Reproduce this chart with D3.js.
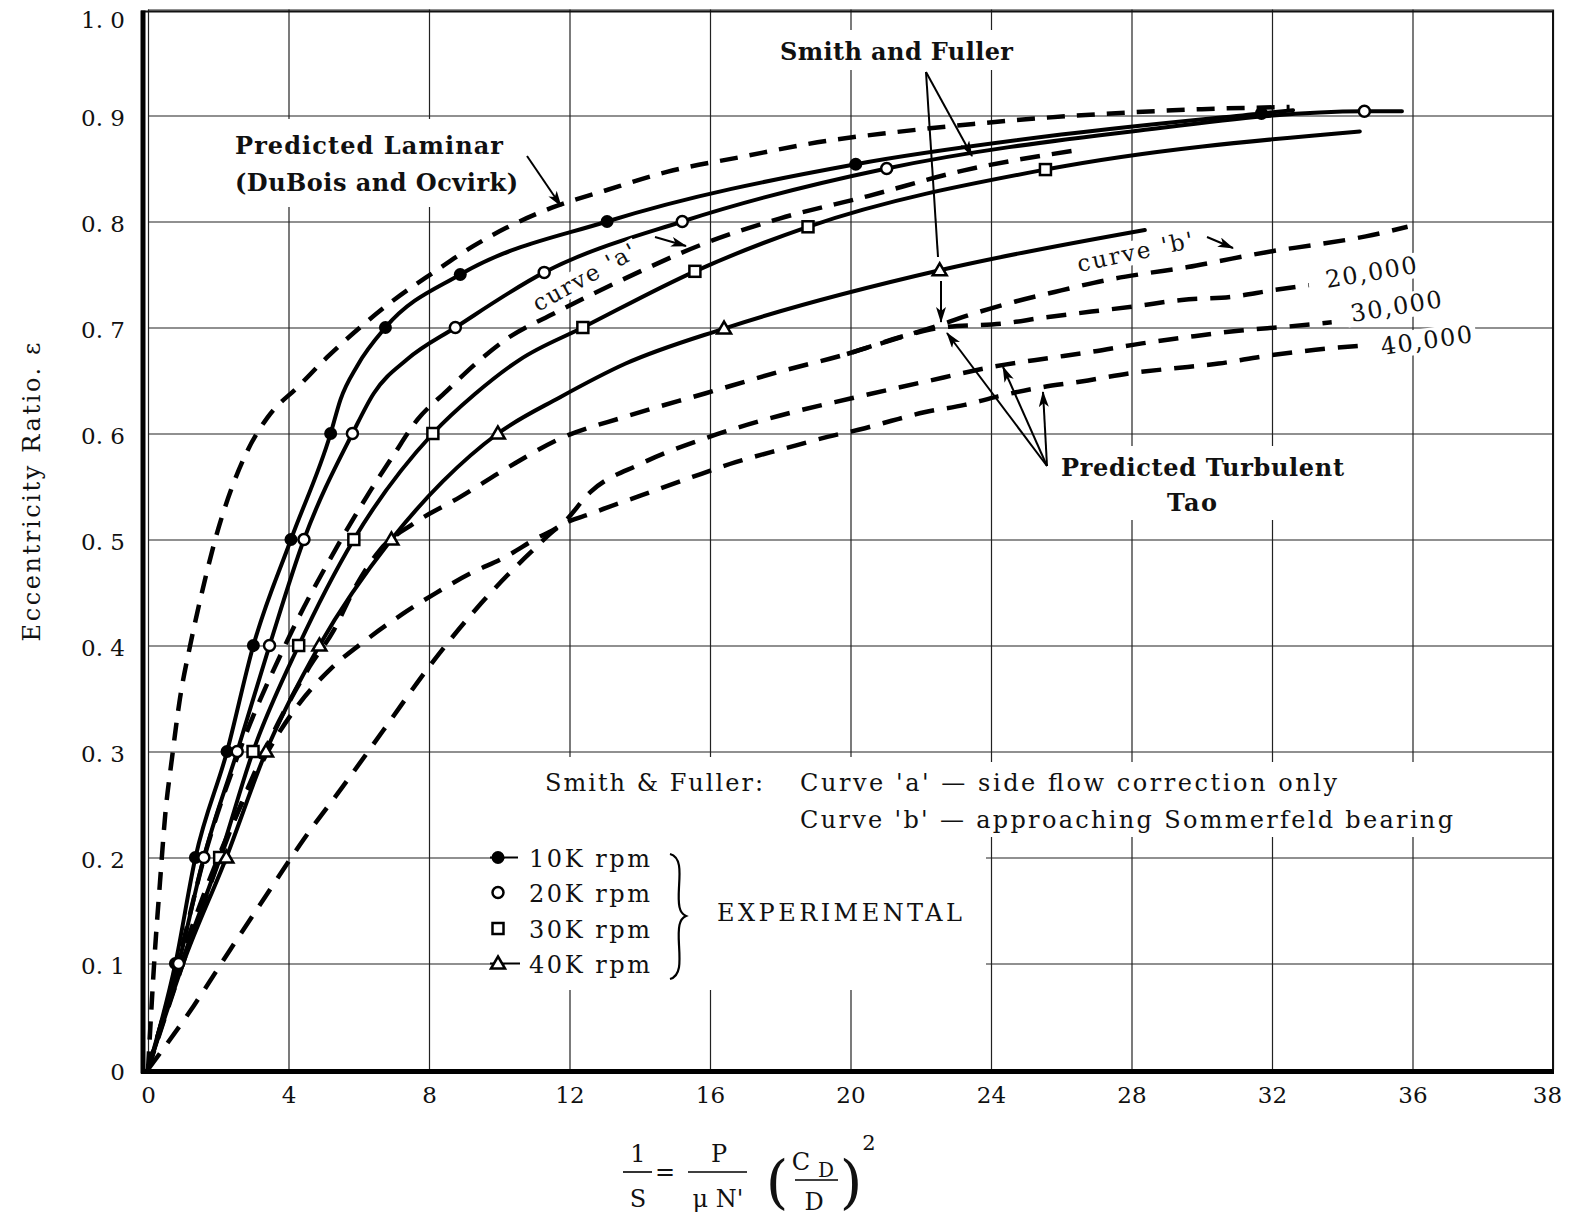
<!DOCTYPE html>
<html>
<head>
<meta charset="utf-8">
<title>Eccentricity Ratio vs 1/S</title>
<script src="https://d3js.org/d3.v7.min.js"></script>
<style>
  body { margin: 0; background: #fff; }
  svg { display: block; }
  text { font-family: "DejaVu Serif", "Liberation Serif", serif; fill: #111; }
</style>
</head>
<body>
<script>
// ---- axis ticks ----
var xTickVals = [0, 4, 8, 12, 16, 20, 24, 28, 32, 36, 40];
var xTickLabels = ["0", "4", "8", "12", "16", "20", "24", "28", "32", "36", "38"];
var yTickVals = [0, 0.1, 0.2, 0.3, 0.4, 0.5, 0.6, 0.7, 0.8, 0.9, 1.0];
var yTickLabels = ["0", "0. 1", "0. 2", "0. 3", "0. 4", "0. 5", "0. 6", "0. 7", "0. 8", "0. 9", "1. 0"];

// ---- experimental curves (solid) and their measured points ----
var rpm10Curve = [[0,0],[0.78,0.1],[1.35,0.2],[2.25,0.3],[3.0,0.4],[4.07,0.5],[5.2,0.6],[5.48,0.632],[5.96,0.664],[6.76,0.7],[8.89,0.75],[13.07,0.8],[20.15,0.854],[26,0.882],[31.7,0.902],[32.6,0.905]];
var rpm10Pts = [[0.78,0.1],[1.35,0.2],[2.25,0.3],[3.0,0.4],[4.07,0.5],[5.2,0.6],[6.76,0.7],[8.89,0.75],[13.07,0.8],[20.15,0.854],[31.7,0.902]];

var rpm20Curve = [[0,0],[0.87,0.1],[1.59,0.2],[2.54,0.3],[3.46,0.4],[4.44,0.5],[5.82,0.6],[6.43,0.638],[7.38,0.67],[8.75,0.7],[11.28,0.752],[15.21,0.8],[21.03,0.85],[28,0.885],[34.63,0.904],[35.7,0.904]];
var rpm20Pts = [[0.87,0.1],[1.59,0.2],[2.54,0.3],[3.46,0.4],[4.44,0.5],[5.82,0.6],[8.75,0.7],[11.28,0.752],[15.21,0.8],[21.03,0.85],[34.63,0.904]];

var rpm30Curve = [[0,0],[0.95,0.1],[2.04,0.2],[2.99,0.3],[4.29,0.4],[5.86,0.5],[8.11,0.6],[9.3,0.637],[10.6,0.67],[12.38,0.7],[15.57,0.753],[18.79,0.795],[25.55,0.849],[34.5,0.885]];
var rpm30Pts = [[2.04,0.2],[2.99,0.3],[4.29,0.4],[5.86,0.5],[8.11,0.6],[12.38,0.7],[15.57,0.753],[18.79,0.795],[25.55,0.849]];

var rpm40Curve = [[0,0],[1.0,0.1],[2.23,0.2],[3.36,0.3],[4.88,0.4],[6.93,0.5],[8.4,0.555],[9.96,0.6],[11.72,0.634],[13.6,0.666],[16.4,0.699],[22.54,0.754],[28.38,0.792]];
var rpm40Pts = [[2.23,0.2],[3.36,0.3],[4.88,0.4],[6.93,0.5],[9.96,0.6],[16.4,0.699],[22.54,0.754]];

// ---- predicted curves (dashed) ----
var laminar = [[0,0],[0.2,0.113],[0.34,0.176],[0.49,0.24],[0.68,0.293],[0.91,0.35],[1.2,0.4],[1.5,0.445],[2.0,0.51],[2.4,0.55],[2.85,0.585],[3.4,0.615],[4.3,0.645],[5.1,0.672],[5.86,0.695],[7.0,0.726],[8.13,0.752],[9.27,0.777],[10.2,0.794],[11.5,0.813],[13,0.829],[14.8,0.847],[16.9,0.861],[19.3,0.876],[21.2,0.884],[23.5,0.892],[25.6,0.898],[28,0.903],[30,0.906],[32.5,0.908]];

var curveA = [[0,0],[0.85,0.1],[1.6,0.2],[2.6,0.3],[3.9,0.4],[5.5,0.5],[6.35,0.547],[6.96,0.578],[7.67,0.613],[8.5,0.64],[9.3,0.665],[10.2,0.689],[11.6,0.714],[13.5,0.745],[15.9,0.78],[18,0.803],[20.5,0.824],[23.2,0.848],[26.4,0.867]];

var curveB = [[19.9,0.675],[21.64,0.693],[22.6,0.703],[23.4,0.712],[24.2,0.72],[26,0.735],[27.33,0.745],[28.4,0.751],[29.6,0.757],[30.86,0.765],[32,0.772],[33.24,0.778],[34.67,0.786],[35.86,0.795]];

var tao20 = [[0,0],[1.2,0.12],[2.4,0.23],[3.6,0.32],[4.6,0.38],[5.3,0.415],[5.9,0.455],[6.6,0.49],[7.56,0.515],[8.88,0.54],[10.2,0.567],[11.72,0.595],[13.6,0.616],[15.88,0.638],[17.95,0.658],[19.9,0.675],[21.64,0.693],[22.6,0.7],[24.4,0.704],[25.43,0.709],[26.86,0.715],[28.1,0.72],[29.43,0.726],[30.86,0.729],[32.0,0.735],[33.05,0.74]];

var tao30 = [[0,0],[1.0,0.11],[2.0,0.2],[2.8,0.26],[3.5,0.305],[4.3,0.345],[5.2,0.378],[6.2,0.405],[7.26,0.43],[8.17,0.449],[9.18,0.468],[10.2,0.484],[11.0,0.5],[11.8,0.515],[12.6,0.545],[14,0.571],[16,0.597],[18,0.617],[20,0.633],[22,0.648],[24.4,0.665],[25.62,0.671],[26.86,0.677],[28.3,0.685],[29.6,0.691],[31.05,0.697],[32.48,0.701],[33.7,0.705]];

var tao40 = [[0,0],[1.3,0.06],[2.34,0.113],[3.48,0.17],[4.43,0.217],[5.57,0.268],[6.7,0.32],[8.07,0.383],[9.49,0.44],[10.9,0.488],[11.7,0.512],[12.66,0.525],[14.08,0.542],[15.5,0.559],[16.73,0.573],[18.14,0.586],[19.37,0.597],[20.41,0.605],[21.17,0.612],[22.1,0.62],[23.25,0.627],[24.2,0.635],[25.33,0.643],[26.57,0.649],[28,0.657],[29.05,0.661],[30.48,0.666],[31.8,0.673],[33.24,0.679],[34.57,0.683]];

var legendRows = ["10K rpm", "20K rpm", "30K rpm", "40K rpm"];
var legendTypes = ["filled", "open", "square", "triangle"];

var W = 1573, H = 1222;
var svg = d3.select("body").append("svg").attr("width", W).attr("height", H);

var x = d3.scaleLinear().domain([0, 40]).range([148, 1553]);
var y = d3.scaleLinear().domain([0, 1]).range([1069.5, 9.5]);

svg.append("defs").append("marker")
  .attr("id", "arr").attr("markerUnits", "userSpaceOnUse")
  .attr("markerWidth", 16).attr("markerHeight", 10)
  .attr("refX", 15).attr("refY", 5).attr("orient", "auto")
  .append("path").attr("d", "M0,0 L16,5 L0,10 L4,5 z").attr("fill", "#000");

// grid + tick labels
var gx = svg.append("g").attr("transform", "translate(0," + y(0) + ")")
  .call(d3.axisBottom(x).tickValues(xTickVals).tickSize(-(y(0) - y(1))).tickPadding(17)
    .tickFormat(function(d, i) { return xTickLabels[i]; }));
gx.select(".domain").remove();
gx.selectAll("line").attr("stroke", "#222").attr("stroke-width", 1.2);
gx.selectAll("text").attr("font-size", 23).attr("fill", "#111")
  .attr("dx", function(d) { return d === 40 ? -6 : 0; });

var gy = svg.append("g").attr("transform", "translate(" + x(0) + ",0)")
  .call(d3.axisLeft(y).tickValues(yTickVals).tickSize(-(x(40) - x(0))).tickPadding(23)
    .tickFormat(function(d, i) { return yTickLabels[i]; }));
gy.select(".domain").remove();
gy.selectAll("line").attr("stroke", "#222").attr("stroke-width", 1.2);
gy.selectAll("text").attr("font-size", 23).attr("fill", "#111")
  .attr("dy", function(d) { return d === 1 ? "0.78em" : "0.42em"; });

// frame
svg.append("line").attr("x1", x(40)).attr("x2", x(40)).attr("y1", y(1) + 1).attr("y2", y(0) + 3).attr("stroke", "#111").attr("stroke-width", 2);
svg.append("line").attr("x1", 141).attr("x2", x(40)).attr("y1", y(1) + 2).attr("y2", y(1) + 2).attr("stroke", "#111").attr("stroke-width", 2);

// white areas where grid is interrupted by lettering
var blanks = [[228,119,300,88],[772,30,250,40],[1053,446,300,74],[505,757,481,233],[986,762,475,75]];
svg.selectAll("rect.blank").data(blanks).enter().append("rect")
  .attr("x", function(d) { return d[0]; }).attr("y", function(d) { return d[1]; })
  .attr("width", function(d) { return d[2]; }).attr("height", function(d) { return d[3]; })
  .attr("fill", "#fff");

// rotated curve labels with white background
function tiltLabel(txt, px, py, ang, len, fs) {
  var g = svg.append("g").attr("transform", "translate(" + px + "," + py + ") rotate(" + ang + ")");
  g.append("rect").attr("x", -4).attr("y", -fs * 0.85).attr("width", len + 8).attr("height", fs * 1.05).attr("fill", "#fff");
  g.append("text").attr("font-size", fs).attr("textLength", len).attr("lengthAdjust", "spacing").text(txt);
}

// axes
svg.append("line").attr("x1", 143).attr("x2", 143).attr("y1", y(1) + 1).attr("y2", y(0) + 4).attr("stroke", "#000").attr("stroke-width", 5);
svg.append("line").attr("x1", 141).attr("x2", x(40) + 1).attr("y1", y(0) + 2).attr("y2", y(0) + 2).attr("stroke", "#000").attr("stroke-width", 5);

var line = d3.line().x(function(d) { return x(d[0]); }).y(function(d) { return y(d[1]); }).curve(d3.curveMonotoneX);

function dashed(data, dash, w) {
  svg.append("path").datum(data).attr("d", line).attr("fill", "none")
    .attr("stroke", "#000").attr("stroke-width", w || 4.5).attr("stroke-dasharray", dash || "20,12");
}
function solid(data) {
  svg.append("path").datum(data).attr("d", line).attr("fill", "none")
    .attr("stroke", "#000").attr("stroke-width", 4).attr("stroke-linecap", "round");
}

dashed(laminar, "18,12");
dashed(curveA, "20,12");
dashed(tao40, "20,13");
dashed(tao30, "20,13");
dashed(tao20, "20,13");
dashed(curveB, "22,13");

solid(rpm10Curve);
solid(rpm20Curve);
solid(rpm30Curve);
solid(rpm40Curve);

function drawMarker(g, type, px, py) {
  if (type === "filled") {
    g.append("circle").attr("cx", px).attr("cy", py).attr("r", 6.5).attr("fill", "#000");
  } else if (type === "open") {
    g.append("circle").attr("cx", px).attr("cy", py).attr("r", 5.5).attr("fill", "#fff").attr("stroke", "#000").attr("stroke-width", 2.5);
  } else if (type === "square") {
    g.append("rect").attr("x", px - 5.5).attr("y", py - 5.5).attr("width", 11).attr("height", 11).attr("fill", "#fff").attr("stroke", "#000").attr("stroke-width", 2.5);
  } else {
    g.append("path").attr("d", "M" + px + "," + (py - 7) + " L" + (px + 7) + "," + (py + 5) + " L" + (px - 7) + "," + (py + 5) + " Z")
      .attr("fill", "#fff").attr("stroke", "#000").attr("stroke-width", 2.5).attr("stroke-linejoin", "miter");
  }
}
var mk = svg.append("g");
[[rpm10Pts, "filled"], [rpm20Pts, "open"], [rpm30Pts, "square"], [rpm40Pts, "triangle"]].forEach(function(s) {
  s[0].forEach(function(d) { drawMarker(mk, s[1], x(d[0]), y(d[1])); });
});

// labels on curves
tiltLabel("curve 'a'", 538, 312, -29, 114, 23);
tiltLabel("curve 'b'", 1079, 272, -12, 118, 23);
tiltLabel("20,000", 1327, 288, -9.5, 92, 24);
tiltLabel("30,000", 1352, 322, -9.4, 92, 24);
tiltLabel("40,000", 1382, 355, -8, 92, 24);

// annotations
function label(txt, px, py, fs, len, bold) {
  var t = svg.append("text").attr("x", px).attr("y", py).attr("font-size", fs).text(txt);
  if (len) t.attr("textLength", len).attr("lengthAdjust", "spacing");
  if (bold) t.attr("font-weight", "bold");
  return t;
}
label("Predicted Laminar", 235, 154, 24, 268, true);
label("(DuBois and Ocvirk)", 235, 191, 24, 283, true);
label("Smith and Fuller", 780, 60, 24, 233, true);
label("Predicted Turbulent", 1061, 476, 24, 283, true);
label("Tao", 1167, 511, 24, 50, true);

label("Smith & Fuller:", 545, 791, 24, 218);
label("Curve 'a' \u2014 side flow correction only", 800, 791, 24, 537);
label("Curve 'b' \u2014 approaching Sommerfeld bearing", 800, 828, 24, 653);
label("EXPERIMENTAL", 717, 921, 24, 245);

// arrows
function arrow(x1, y1, x2, y2, head) {
  var l = svg.append("line").attr("x1", x1).attr("y1", y1).attr("x2", x2).attr("y2", y2)
    .attr("stroke", "#000").attr("stroke-width", 2);
  if (head) l.attr("marker-end", "url(#arr)");
}
arrow(527, 156, 561, 206, true);
arrow(926, 72, 938, 257, false);
arrow(926, 72, 972, 156, true);
arrow(941, 281, 941, 322, true);
arrow(1047, 466, 947, 333, true);
arrow(1047, 466, 1003, 367, true);
arrow(1047, 466, 1043, 392, true);
arrow(655, 237, 686, 246, true);
arrow(1207, 237, 1233, 248, true);

// legend
var legY = [y(0.2), y(0.2) + 35, y(0.2) + 71, y(0.1)];
svg.append("line").attr("x1", 490).attr("x2", 518).attr("y1", legY[0]).attr("y2", legY[0]).attr("stroke", "#000").attr("stroke-width", 2);
svg.append("line").attr("x1", 490).attr("x2", 520).attr("y1", legY[3]).attr("y2", legY[3]).attr("stroke", "#000").attr("stroke-width", 2);
legendRows.forEach(function(r, i) {
  drawMarker(svg, legendTypes[i], 498, legY[i]);
  label(r, 529, legY[i] + 9, 24, 121);
});
svg.append("path")
  .attr("d", "M670,854 C681,857 680,871 679,887 C678,905 679,913 686,916 C679,919 678,927 679,945 C680,962 681,976 670,979")
  .attr("fill", "none").attr("stroke", "#000").attr("stroke-width", 2.2);

// y axis title
svg.append("text").attr("transform", "translate(40,492) rotate(-90)")
  .attr("text-anchor", "middle").attr("font-size", 24).attr("textLength", 299).attr("lengthAdjust", "spacing")
  .text("Eccentricity Ratio. \u03b5");

// x axis title: 1/S = P/(mu N') (C_D/D)^2
var f = svg.append("g");
function ftext(txt, px, py, fs, anchor) {
  f.append("text").attr("x", px).attr("y", py).attr("font-size", fs || 24).attr("text-anchor", anchor || "middle").text(txt);
}
function fbar(x1, x2, yy) {
  f.append("line").attr("x1", x1).attr("x2", x2).attr("y1", yy).attr("y2", yy).attr("stroke", "#000").attr("stroke-width", 1.6);
}
ftext("1", 638, 1162);
fbar(623, 652, 1172);
ftext("S", 638, 1207);
ftext("=", 665, 1180);
ftext("P", 719, 1162);
fbar(688, 747, 1172);
ftext("\u03bc N'", 718, 1207);
ftext("(", 777, 1202, 58);
ftext("C", 801, 1170);
ftext("D", 826, 1177, 20);
fbar(795, 838, 1180);
ftext("D", 814, 1210);
ftext(")", 851, 1202, 58);
ftext("2", 869, 1150, 21);
</script>
</body>
</html>
